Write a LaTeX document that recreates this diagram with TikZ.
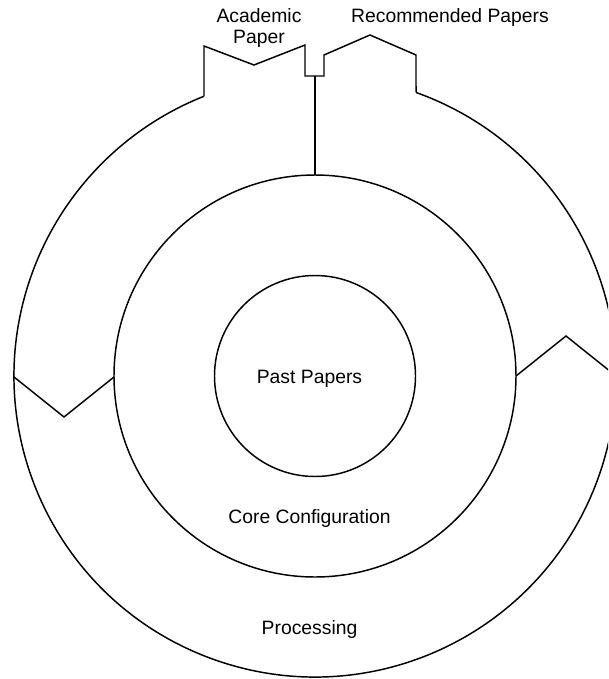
\documentclass[tikz,border=0pt]{standalone}
\usepackage{fontspec}
\setmainfont{Liberation Sans}
\usetikzlibrary{calc}
\begin{document}
\begin{tikzpicture}[x=0.75pt,y=-0.75pt,
  ring/.style={draw=black,line width=1.1pt,line join=miter},
  label/.style={font=\fontsize{14.5pt}{15.5pt}\selectfont,inner sep=0pt,anchor=base,align=center}]
\useasboundingbox (0,0) rectangle (608,679);
\clip (0,0) rectangle (608,679);
% centre of the three rings
\coordinate (c) at (315,376);
% inner and core circles
\draw[ring] (c) circle[radius=100.5];
\draw[ring] (c) circle[radius=201];
% outer ring, open at the top between the two tabs
\draw[ring] (c) ++(-70.39:301) arc[start angle=-70.39,end angle=248.36,radius=301];
% the two tabs at the top of the outer ring
\coordinate (tl) at ($(c)+(248.36:301)$);
\coordinate (tr) at ($(c)+(-70.39:301)$);
\draw[ring] (tl) -- (204,46) -- (254,65) -- (305,45) -- (305,76)
  -- (324,76) -- (324,55) -- (370,35) -- (416,55) -- (tr);
% divider from the tabs down to the core circle
\coordinate (dtop) at (315,76);
\coordinate (dbot) at (315,175);
\draw[ring] (dtop) -- (dbot);
% side notches splitting the outer ring
\coordinate (ln1) at (14,377);
\coordinate (ln2) at (64,417);
\coordinate (ln3) at (114,377);
\draw[ring] (ln1) -- (ln2) -- (ln3);
\coordinate (rn1) at (516,376);
\coordinate (rn2) at (566,336);
\coordinate (rn3) at (616,376);
\draw[ring] (rn1) -- (rn2) -- (rn3);
% labels (a two-line node sits on the baseline of its last line)
\node[label] (acad) at (259,43.3) {Academic\\Paper};
\node[label] (rec) at (450,22.7) {Recommended Papers};
\node[label] (past) at (309.5,383) {Past Papers};
\node[label] (core) at (309.5,523.3) {Core Configuration};
\node[label] (proc) at (309.5,634) {Processing};
\end{tikzpicture}
\end{document}
